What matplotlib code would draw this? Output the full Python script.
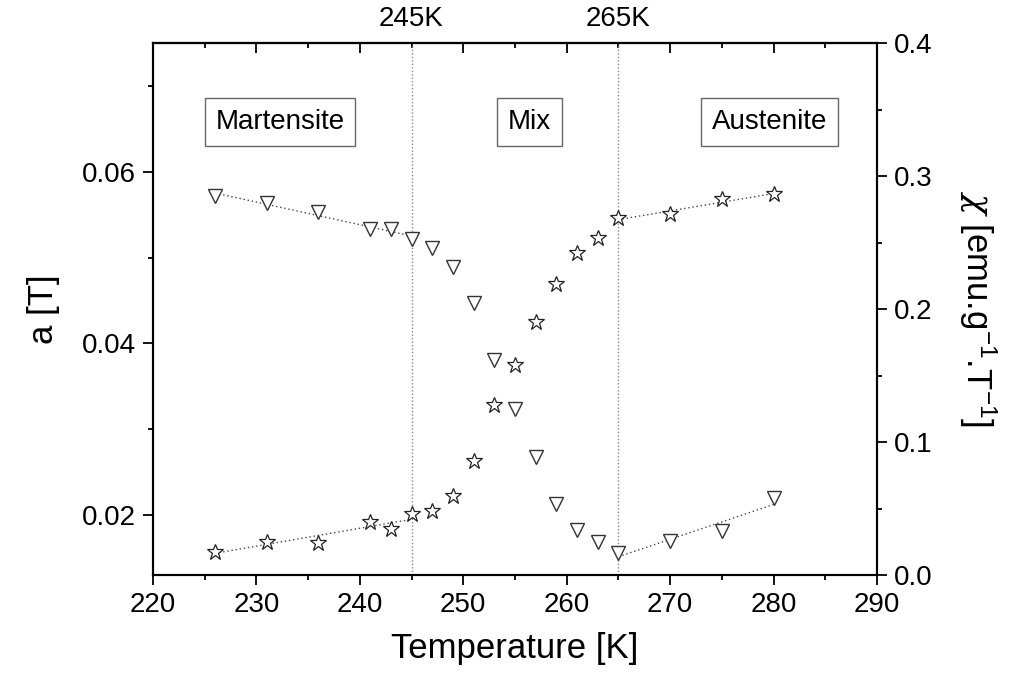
# Field a and susceptibility chi vs temperature across the martensitic transition
import numpy as np
import matplotlib.pyplot as plt
from matplotlib.ticker import MultipleLocator, FormatStrFormatter

plt.rcParams['font.family'] = ['Liberation Sans', 'DejaVu Sans']
plt.rcParams['mathtext.fontset'] = 'custom'
plt.rcParams['mathtext.rm'] = 'Liberation Sans'
plt.rcParams['mathtext.it'] = 'DejaVu Serif:italic'

# Data
temps = [226, 231, 236, 241, 243, 245, 247, 249, 251, 253,
         255, 257, 259, 261, 263, 265, 270, 275, 280]
field_a = [0.0572, 0.0564, 0.0553, 0.0533, 0.0533, 0.0522, 0.0511, 0.0489,
           0.0447, 0.0381, 0.0324, 0.0267, 0.0213, 0.0183, 0.0168, 0.0156,
           0.0170, 0.0181, 0.0220]
chi = [0.0175, 0.0246, 0.0243, 0.0401, 0.0343, 0.0459, 0.0484, 0.0594,
       0.0860, 0.1278, 0.1579, 0.1900, 0.2188, 0.2419, 0.2532, 0.2682,
       0.2712, 0.2825, 0.2862]

transitions = [245, 265]
transition_labels = ['245K', '265K']
fit_ranges = [(226, 245), (265, 280)]
phase_labels = ['Martensite', 'Mix', 'Austenite']
phase_x = [232.3, 256.4, 279.6]

temps = np.array(temps)
field_a = np.array(field_a)
chi = np.array(chi)

fig = plt.figure(figsize=(10.13, 6.86), dpi=100)
ax = fig.add_axes([0.151, 0.1618, 0.7147, 0.7755])
ax2 = ax.twinx()

# vertical lines marking the transitions
for t, lab in zip(transitions, transition_labels):
    ax.axvline(t, color='#888888', lw=1.0, ls=(0, (1, 1.5)), zorder=1)
    ax.text(t, 1.045, lab, transform=ax.get_xaxis_transform(),
            ha='center', va='center', fontsize=20)

# linear fits in the pure phases
for lo, hi in fit_ranges:
    m = (temps >= lo) & (temps <= hi)
    p = np.polyfit(temps[m], field_a[m], 1)
    ax.plot([lo, hi], np.polyval(p, [lo, hi]), color='#444444', lw=1.0,
            ls=(0, (1, 2)), zorder=2)
    q = np.polyfit(temps[m], chi[m], 1)
    ax2.plot([lo, hi], np.polyval(q, [lo, hi]), color='#444444', lw=1.0,
             ls=(0, (1, 2)), zorder=2)

ax.plot(temps, field_a, ls='none', marker='v', ms=10, mfc='white',
        mec='#333333', mew=1.0, zorder=3)
ax2.plot(temps, chi, ls='none', marker='*', ms=12, mfc='white',
         mec='#222222', mew=0.9, zorder=3)

for lab, x in zip(phase_labels, phase_x):
    ax.text(x, 0.8515, lab, transform=ax.get_xaxis_transform(),
            ha='center', va='center', fontsize=20,
            bbox=dict(boxstyle='square,pad=0.38', fc='white', ec='#666666', lw=1.0))

ax.set_xlim(220, 290)
ax.set_ylim(0.013, 0.075)
ax2.set_ylim(0.0, 0.4)

ax.xaxis.set_major_locator(MultipleLocator(10))
ax.xaxis.set_minor_locator(MultipleLocator(5))
ax.yaxis.set_major_locator(MultipleLocator(0.02))
ax.yaxis.set_minor_locator(MultipleLocator(0.01))
ax.yaxis.set_major_formatter(FormatStrFormatter('%.2f'))
ax2.yaxis.set_major_locator(MultipleLocator(0.1))
ax2.yaxis.set_minor_locator(MultipleLocator(0.05))
ax2.yaxis.set_major_formatter(FormatStrFormatter('%.1f'))

for a in (ax, ax2):
    a.tick_params(which='both', direction='out', labelsize=20, width=1.3, pad=5)
    a.tick_params(which='major', length=7)
    a.tick_params(which='minor', length=3.5)
    for s in a.spines.values():
        s.set_linewidth(1.5)

# inward ticks on the top spine
top = ax.secondary_xaxis('top')
top.xaxis.set_major_locator(MultipleLocator(10))
top.xaxis.set_minor_locator(MultipleLocator(5))
top.tick_params(which='both', direction='in', labeltop=False, width=1.3)
top.tick_params(which='major', length=7)
top.tick_params(which='minor', length=3.5)
top.spines['top'].set_linewidth(1.5)

ax.set_xlabel('Temperature [K]', fontsize=25, labelpad=10)
ax.set_ylabel('a [T]', fontsize=25, labelpad=16)
ax2.set_ylabel('$\\chi$ [emu.g$^{\\mathregular{-1}}$.T$^{\\mathregular{-1}}$]',
               fontsize=25, rotation=270, labelpad=48)

fig.savefig('out.png', dpi=100)
